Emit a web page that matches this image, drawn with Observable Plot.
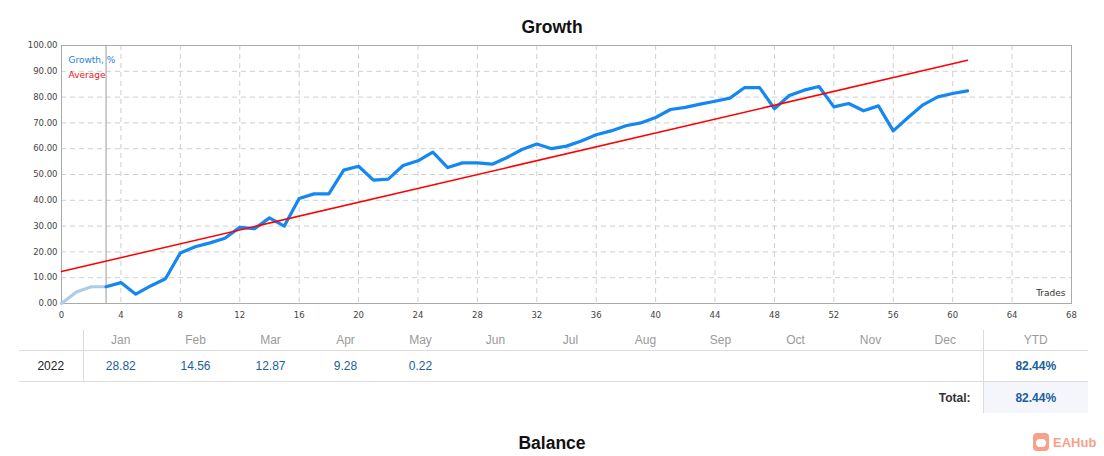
<!DOCTYPE html>
<html><head><meta charset="utf-8">
<script src="https://cdn.jsdelivr.net/npm/d3@7"></script>
<script src="https://cdn.jsdelivr.net/npm/@observablehq/plot@0.6"></script>
<style>
body{margin:0;background:#fff;width:1104px;height:456px;position:relative;overflow:hidden;font-family:"Liberation Sans",Arial,sans-serif}
.title{position:absolute;left:0;width:1104px;text-align:center;font:bold 17.5px "Liberation Sans",Arial,sans-serif;color:#111;line-height:20px}
#chart{position:absolute;left:0;top:36px}
table{position:absolute;left:19px;top:330px;border-collapse:collapse;table-layout:fixed;width:1069px;font-size:12px}
td,th{padding:0;text-align:center;font-weight:normal}
tr.head th{height:20px;color:#9a9a9a;border-bottom:1px solid #dcdcdc;vertical-align:middle}
tr.row td{height:30px;border-bottom:1px solid #dcdcdc;color:#1a5f9c}
tr.row td.year{color:#222}
.sepR{border-right:1px solid #dcdcdc}
.sepL{border-left:1px solid #dcdcdc}
td.ytd{font-weight:bold;color:#1a5f9c}
tr.total td{height:31px}
td.totlabel{text-align:right;padding-right:12px;color:#333;font-weight:bold}
td.totval{background:#f4f6fc}
#wm{position:absolute;left:1033px;top:432px;height:20px;display:flex;align-items:center;color:#f7a189;font:bold 13px "Liberation Sans",Arial,sans-serif}
#wm .ic{width:16px;height:18px;border-radius:4px;background:#f7a189;margin-right:4px;position:relative}
#wm .ic:after{content:"";position:absolute;left:3px;top:6px;width:10px;height:8px;border-radius:5px;background:#fff}
</style></head>
<body>
<div class="title" style="top:17px">Growth</div>
<div id="chart"></div>
<table id="tbl"></table>
<div class="title" style="top:433px">Balance</div>
<div id="wm"><span class="ic"></span>EAHub</div>
<script>
// ---- data ----
const growth = [0,4.5,6.5,6.5,8.1,3.6,6.8,9.6,19.6,22,23.5,25.3,29.5,29,33.2,30,40.7,42.5,42.5,51.7,53.2,47.8,48.2,53.5,55.3,58.7,52.7,54.5,54.5,54,56.6,59.7,61.8,60,61,63,65.4,66.9,68.9,70,72.1,75.2,76,77.3,78.4,79.6,83.7,83.7,75.5,80.6,82.7,84.1,76.2,77.5,74.7,76.6,66.9,72.1,77,80.1,81.4,82.44];
const splitTrade = 3;           // first trades drawn in light colour
const averageTrades = [0, 61];
const averageValues = [12.4, 94.3];
const xTicks = [0,4,8,12,16,20,24,28,32,36,40,44,48,52,56,60,64,68];
const yTicks = [0,10,20,30,40,50,60,70,80,90,100];
const legendLabels = ["Growth, %", "Average"];
const legendColors = ["#1e7fe0", "#e8141c"];
const axisLabel = "Trades";
const months = ["Jan","Feb","Mar","Apr","May","Jun","Jul","Aug","Sep","Oct","Nov","Dec"];
const year = "2022";
const monthValues = ["28.82","14.56","12.87","9.28","0.22","","","","","","",""];
const ytd = "82.44%";
const total = "82.44%";

// ---- chart ----
const pts = growth.map((v,i)=>({trade:i, value:v}));
const early = pts.filter(d=>d.trade<=splitTrade);
const late = pts.filter(d=>d.trade>=splitTrade);
const avg = averageTrades.map((t,i)=>({trade:t, value:averageValues[i]}));

const chart = Plot.plot({
  width:1104, height:290,
  marginLeft:61, marginRight:33, marginTop:9, marginBottom:23,
  style:{fontFamily:"DejaVu Sans, sans-serif", fontSize:"8.5px", color:"#444", background:"transparent"},
  x:{domain:[0,68], ticks:xTicks, tickSize:0, tickPadding:8, label:null},
  y:{domain:[0,100], ticks:yTicks, tickSize:0, tickPadding:4, tickFormat:d=>d.toFixed(2), label:null},
  marks:[
    Plot.gridX(xTicks,{stroke:"#cfcfcf", strokeOpacity:1, strokeDasharray:"5,4"}),
    Plot.gridY(yTicks,{stroke:"#cfcfcf", strokeOpacity:1, strokeDasharray:"5,4"}),
    Plot.frame({stroke:"#aaa"}),
    Plot.ruleX([splitTrade],{stroke:"#9a9a9a", strokeWidth:1}),
    Plot.line(early,{x:"trade", y:"value", stroke:"#aecbea", strokeWidth:3.2}),
    Plot.line(late,{x:"trade", y:"value", stroke:"#1487f2", strokeWidth:3.2}),
    Plot.line(avg,{x:"trade", y:"value", stroke:"#f00", strokeWidth:1.5}),
    Plot.text([legendLabels[0]],{frameAnchor:"top-left", dx:7, dy:11.5, text:d=>d, fill:legendColors[0], textAnchor:"start", fontSize:9}),
    Plot.text([legendLabels[1]],{frameAnchor:"top-left", dx:7, dy:26.5, text:d=>d, fill:legendColors[1], textAnchor:"start", fontSize:9}),
    Plot.text([axisLabel],{frameAnchor:"bottom-right", dx:-6, dy:-8, text:d=>d, fill:"#333", textAnchor:"end", fontSize:9})
  ]
});
document.getElementById("chart").appendChild(chart);

// ---- table ----
const tbl = document.getElementById("tbl");
let html = '<colgroup><col style="width:64px">' + months.map(()=>'<col style="width:75px">').join('') + '<col style="width:105px"></colgroup>';
html += '<tr class="head"><th class="sepR"></th>' + months.map(m=>`<th>${m}</th>`).join('') + '<th class="sepL">YTD</th></tr>';
html += `<tr class="row"><td class="year sepR">${year}</td>` + monthValues.map(v=>`<td>${v}</td>`).join('') + `<td class="ytd sepL">${ytd}</td></tr>`;
html += `<tr class="total"><td class="totlabel" colspan="13">Total:</td><td class="ytd sepL totval">${total}</td></tr>`;
tbl.innerHTML = html;
</script>
</body></html>
